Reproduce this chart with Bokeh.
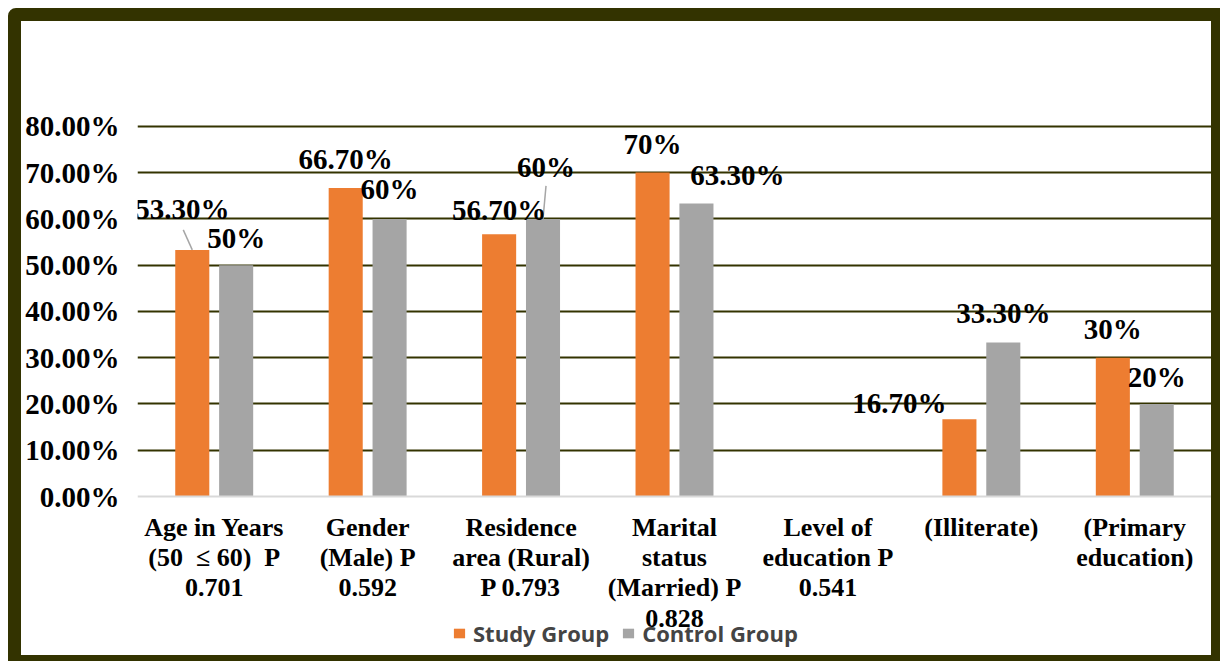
import numpy as np
from bokeh.plotting import figure
from bokeh.models import ColumnDataSource, FixedTicker, Legend, LegendItem, Range1d, Span
from bokeh.core.properties import value
from bokeh.embed import file_html
from bokeh.resources import INLINE

# ---- data ----
categories = [
    "Age in Years\n(50 \u00a0\u2264 60) \u00a0P\n0.701",
    "Gender\n(Male) P\n0.592",
    "Residence\narea (Rural)\nP 0.793",
    "Marital\nstatus\n(Married) P\n0.828",
    "Level of\neducation P\n0.541",
    "(Illiterate)",
    "(Primary\neducation)",
]
study = [53.3, 66.7, 56.7, 70.0, np.nan, 16.7, 30.0]
control = [50.0, 60.0, 60.0, 63.3, np.nan, 33.3, 20.0]
study_labels = ["53.30%", "66.70%", "56.70%", "70%", "", "16.70%", "30%"]
control_labels = ["50%", "60%", "60%", "63.30%", "", "33.30%", "20%"]
y_ticks = [0, 10, 20, 30, 40, 50, 60, 70, 80]
series_names = ["Study Group", "Control Group"]

# ---- styling / layout ----
ORANGE = "#ED7D31"
GRAY = "#A5A5A5"
OLIVE = "#333300"
BAR_W = 0.222
OFF = 0.143
Y_TOP = 80.4
CANVAS_Y0 = 21          # page y of canvas origin (inside the border)
FRAME_TOP, ZERO_Y, FRAME_BOT = 124, 496, 653   # page y positions
PX_PER_Y = (ZERO_Y - FRAME_TOP) / Y_TOP
Y_START = -(FRAME_BOT - ZERO_Y) / PX_PER_Y
PX_PER_X = 153.4
RISE_FIX = 12
study_off = [(-10, 29), (0, 17), (0, 12), (0, 17), (0, 0), (-60, 4), (0, 17)]
control_off = [(0, 15), (0, 18), (3, 40), (41, 17), (0, 0), (0, 17), (0, 15)]

W, H = 1212, 653
p = figure(width=W, height=H, output_backend="svg", toolbar_location=None,
           x_range=Range1d(-0.5, len(categories) - 0.5), y_range=Range1d(Y_START, Y_TOP))
p.styles = {"margin-left": "8px", "margin-top": "8px",
            "border-style": "solid", "border-color": OLIVE,
            "border-width": "13px 9px 6px 13px", "border-radius": "8px 0 0 0"}
p.min_border_left = 116
p.min_border_right = 22
p.min_border_top = FRAME_TOP - CANVAS_Y0
p.min_border_bottom = H - (FRAME_BOT - CANVAS_Y0)
p.background_fill_color = "white"
p.border_fill_color = "white"
p.outline_line_color = None

def build(vals, labels, offs, shift):
    xs, ys, ls, dxs, dys = [], [], [], [], []
    for i, (v, l, o) in enumerate(zip(vals, labels, offs)):
        if np.isnan(v):
            continue
        xs.append(i + shift); ys.append(v); ls.append(l)
        dxs.append(o[0]); dys.append(-(o[1] + RISE_FIX))
    return ColumnDataSource(dict(x=xs, top=ys, label=ls, dx=dxs, dy=dys))

s_src = build(study, study_labels, study_off, -OFF)
c_src = build(control, control_labels, control_off, OFF)

# grid (olive) and baseline (light gray)
p.xgrid.grid_line_color = None
p.ygrid.ticker = FixedTicker(ticks=y_ticks[1:])
p.ygrid.grid_line_color = OLIVE
p.ygrid.grid_line_width = 2
p.add_layout(Span(location=0, dimension="width", line_color="#D9D9D9", line_width=2))

r_s = p.vbar(x="x", top="top", width=BAR_W, source=s_src, fill_color=ORANGE, line_color=None)
r_c = p.vbar(x="x", top="top", width=BAR_W, source=c_src, fill_color=GRAY, line_color=None)

# leader lines for displaced labels
lead_x0 = [0 - OFF, 2 + OFF]
lead_y0 = [study[0], control[2]]
lead_x1 = [0 - OFF - 9 / PX_PER_X, 2 + OFF + 3 / PX_PER_X]
lead_y1 = [study[0] + 20 / PX_PER_Y, control[2] + 33 / PX_PER_Y]
p.segment(x0=lead_x0, y0=lead_y0, x1=lead_x1, y1=lead_y1, line_color="#A6A6A6", line_width=1.5)

for src in (s_src, c_src):
    p.text(x="x", y="top", text="label", x_offset="dx", y_offset="dy", source=src,
           text_font=value("Liberation Serif"), text_font_style="bold",
           text_font_size="29px", text_align="center", text_baseline="alphabetic",
           text_color="black")

# category labels under the baseline
cat_src = ColumnDataSource(dict(x=list(range(len(categories))), y=[0] * len(categories),
                                label=categories))
p.text(x="x", y="y", text="label", source=cat_src, y_offset=16,
       text_font=value("Liberation Serif"), text_font_style="bold", text_font_size="26px",
       text_align="center", text_baseline="top", text_line_height=1.05, text_color="black")

p.xaxis.visible = False

p.yaxis.ticker = FixedTicker(ticks=y_ticks)
p.yaxis.major_label_overrides = {t: f"{t:.2f}%" for t in y_ticks}
p.yaxis.major_label_text_font = "Liberation Serif"
p.yaxis.major_label_text_font_style = "bold"
p.yaxis.major_label_text_font_size = "29px"
p.yaxis.major_label_text_color = "black"
p.yaxis.major_label_standoff = 18
p.yaxis.major_tick_out = 0
p.yaxis.major_tick_in = 0
p.yaxis.minor_tick_out = 0
p.yaxis.minor_tick_in = 0
p.yaxis.major_tick_line_color = None
p.yaxis.minor_tick_line_color = None
p.yaxis.axis_line_color = None

legend = Legend(items=[LegendItem(label=series_names[0], renderers=[r_s]),
                       LegendItem(label=series_names[1], renderers=[r_c])],
                orientation="horizontal", location=(315, 5),
                padding=0, margin=0, spacing=12, glyph_width=14, glyph_height=12,
                label_standoff=7, label_text_font="Open Sans", label_text_font_style="bold",
                label_text_font_size="22px", label_height=14,
                background_fill_alpha=0, border_line_color=None)
p.add_layout(legend)

open("out.html", "w").write(file_html(p, INLINE))
